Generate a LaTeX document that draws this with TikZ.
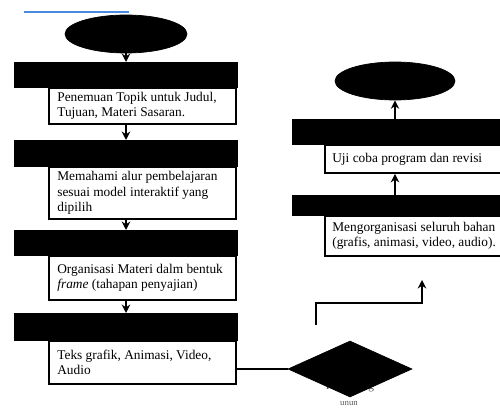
\documentclass[tikz,border=0pt]{standalone}
\usepackage{fontspec}
\setmainfont{Liberation Serif}
\usetikzlibrary{arrows.meta,shapes.geometric}
\tikzset{
  bar/.style={draw=black,fill=black,rectangle,inner sep=0pt,anchor=north west},
  box/.style={draw=black,fill=white,rectangle,inner sep=0pt,line width=1.1pt,anchor=north west},
  txt/.style={anchor=west,align=left,inner sep=0pt,font=\fontsize{7.6}{8.9}\selectfont},
  term/.style={ellipse,fill=black,draw=black,inner sep=0pt},
  dec/.style={diamond,fill=black,draw=black,inner sep=0pt},
  arr/.style={line width=1.1pt,-{Stealth[length=0.17cm,width=0.17cm]}},
  conn/.style={line width=1.1pt},
}
\begin{document}
\begin{tikzpicture}[x=0.02cm,y=-0.02cm]
\useasboundingbox (0,0) rectangle (500,408);
% blue strip at top
\draw[line width=1.3pt,color={rgb,255:red,74;green,139;blue,224}] (24,12) -- (129,12);

% left column
\node[term,minimum width=2.44cm,minimum height=0.76cm] (e1) at (126,34) {};

\node[bar,minimum width=4.46cm,minimum height=0.50cm] (b1) at (14,62) {};
\node[box,minimum width=3.74cm,minimum height=0.72cm] (t1) at (48,87) {};
\node[txt] at ([xshift=0.18cm]t1.west) {Penemuan Topik untuk Judul,\\Tujuan, Materi Sasaran.};

\node[bar,minimum width=4.46cm,minimum height=0.52cm] (b2) at (14,140) {};
\node[box,minimum width=3.74cm,minimum height=1.04cm] (t2) at (48,166) {};
\node[txt] at ([xshift=0.18cm]t2.west) {Memahami alur pembelajaran\\sesuai model interaktif yang\\dipilih};

\node[bar,minimum width=4.46cm,minimum height=0.50cm] (b3) at (14,230) {};
\node[box,minimum width=3.74cm,minimum height=0.88cm] (t3) at (48,255) {};
\node[txt] at ([xshift=0.18cm]t3.west) {Organisasi Materi dalm bentuk\\\textit{frame} (tahapan penyajian)};

\node[bar,minimum width=4.46cm,minimum height=0.54cm] (b4) at (14,313) {};
\node[box,minimum width=3.74cm,minimum height=0.86cm] (t4) at (48,340) {};
\node[txt] at ([xshift=0.18cm]t4.west) {Teks grafik, Animasi, Video,\\Audio};

\draw[arr] (e1.south) -- (e1.south |- b1.north);
\draw[arr] (e1.south |- t1.south) -- (e1.south |- b2.north);
\draw[arr] (e1.south |- t2.south) -- (e1.south |- b3.north);
\draw[arr] (e1.south |- t3.south) -- (e1.south |- b4.north);

% decision
\node[anchor=center,inner sep=0pt,text=black!65,font=\fontsize{6.5}{7}\selectfont] (d1) at (350,387) {Penunjang};
\node[anchor=center,inner sep=0pt,text=black!65,font=\fontsize{5}{6}\selectfont] (d2) at (349,403) {unun};
\node[dec,minimum width=2.48cm,minimum height=1.12cm] (dia) at (350,369) {};
\draw[conn] (t4.east |- dia.west) -- (dia.west);

% right column
\node[term,minimum width=2.40cm,minimum height=0.76cm] (e2) at (395,81) {};

\node[bar,minimum width=4.16cm,minimum height=0.50cm] (rb1) at (292,119) {};
\node[box,minimum width=3.52cm,minimum height=0.56cm] (rt1) at (324,144) {};
\node[txt] at ([xshift=0.16cm]rt1.west) {Uji coba program dan revisi};

\node[bar,minimum width=4.16cm,minimum height=0.40cm] (rb2) at (292,195) {};
\node[box,minimum width=3.52cm,minimum height=0.80cm] (rt2) at (324,215) {};
\node[txt] at ([xshift=0.16cm]rt2.west) {Mengorganisasi seluruh bahan\\(grafis, animasi, video, audio).};

\draw[arr] (e2.south |- rb1.north) -- (e2.south);
\draw[arr] (e2.south |- rb2.north) -- (e2.south |- rt1.south);

% elbow connector
\coordinate (s) at (316,325);
\coordinate (k) at (316,303);
\coordinate (f) at (422,280);
\draw[arr] (s) -- (k) -| (f);
\end{tikzpicture}
\end{document}
